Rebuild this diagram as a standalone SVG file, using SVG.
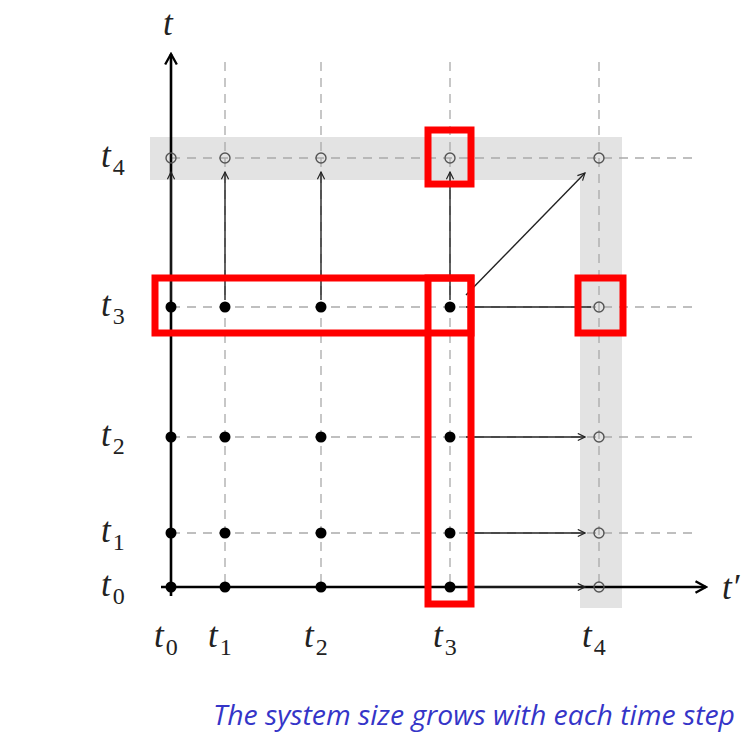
<svg xmlns="http://www.w3.org/2000/svg" width="753" height="741" viewBox="0 0 753 741">
<defs>
<style>
.grid{stroke:#aaa;stroke-width:1.3;stroke-dasharray:9,7;fill:none}
.band{fill:#e3e3e3}
.axis{stroke:#000;stroke-width:2.6;fill:none}
.arr{stroke:#222;stroke-width:1.4;fill:none}
.full{fill:#000}
.open{fill:none;stroke:#555;stroke-width:1.4}
.red{fill:none;stroke:#f00;stroke-width:7}
.lbl{font-family:"Liberation Serif",serif;font-style:italic;font-size:35px;fill:#222}
.sub{font-family:"Liberation Serif",serif;font-style:normal;font-size:24px}
.cap{font-family:"Open Sans","Liberation Sans",sans-serif;font-style:italic;font-size:28px;fill:#3535c8}
</style>
<marker id="ah" viewBox="0 0 10 10" refX="9" refY="5" markerWidth="9" markerHeight="9" markerUnits="userSpaceOnUse" orient="auto"><path d="M1,1 L9,5 L1,9" fill="none" stroke="#222" stroke-width="1.3"/></marker>
<marker id="ahb" viewBox="0 0 12 12" refX="10" refY="6" markerWidth="14" markerHeight="14" markerUnits="userSpaceOnUse" orient="auto"><path d="M1,1 L10,6 L1,11" fill="none" stroke="#000" stroke-width="2"/></marker>
</defs>
<rect width="753" height="741" fill="#fff"/>
<g id="bands">
<rect class="band" x="150" y="137" width="472" height="43"/>
<rect class="band" x="580" y="137" width="42" height="471"/>
</g>
<g id="grid">
<line class="grid" x1="225" y1="62" x2="225" y2="590"/>
<line class="grid" x1="321" y1="62" x2="321" y2="590"/>
<line class="grid" x1="450" y1="62" x2="450" y2="590"/>
<line class="grid" x1="599" y1="62" x2="599" y2="590"/>
<line class="grid" x1="171" y1="158" x2="697" y2="158"/>
<line class="grid" x1="171" y1="307" x2="697" y2="307"/>
<line class="grid" x1="171" y1="437" x2="697" y2="437"/>
<line class="grid" x1="171" y1="533" x2="697" y2="533"/>
</g>
<g id="connectors">
<line class="axis" x1="171" y1="596" x2="171" y2="54" marker-end="url(#ahb)"/>
<line class="axis" x1="161" y1="587" x2="706" y2="587" marker-end="url(#ahb)"/>
<line class="arr" x1="171" y1="300" x2="171" y2="172" marker-end="url(#ah)"/>
<line class="arr" x1="225" y1="300" x2="225" y2="172" marker-end="url(#ah)"/>
<line class="arr" x1="321" y1="300" x2="321" y2="172" marker-end="url(#ah)"/>
<line class="arr" x1="450" y1="300" x2="450" y2="172" marker-end="url(#ah)"/>
<line class="arr" x1="466" y1="295" x2="585" y2="173" marker-end="url(#ah)"/>
<line class="arr" x1="466" y1="307" x2="591" y2="307"/>
<line class="arr" x1="466" y1="437" x2="585" y2="437" marker-end="url(#ah)"/>
<line class="arr" x1="466" y1="533" x2="585" y2="533" marker-end="url(#ah)"/>
<line class="arr" x1="466" y1="587" x2="585" y2="587" marker-end="url(#ah)"/>
</g>
<g id="nodes">
<g id="row4">
<circle class="open" cx="171" cy="158" r="5"/><circle class="open" cx="225" cy="158" r="5"/><circle class="open" cx="321" cy="158" r="5"/><circle class="open" cx="450" cy="158" r="5"/><circle class="open" cx="599" cy="158" r="5"/>
</g>
<g id="row3">
<circle class="full" cx="171" cy="307" r="5.5"/><circle class="full" cx="225" cy="307" r="5.5"/><circle class="full" cx="321" cy="307" r="5.5"/><circle class="full" cx="450" cy="307" r="5.5"/><circle class="open" cx="599" cy="307" r="5" fill="#fff"/>
</g>
<g id="row2">
<circle class="full" cx="171" cy="437" r="5.5"/><circle class="full" cx="225" cy="437" r="5.5"/><circle class="full" cx="321" cy="437" r="5.5"/><circle class="full" cx="450" cy="437" r="5.5"/><circle class="open" cx="599" cy="437" r="5"/>
</g>
<g id="row1">
<circle class="full" cx="171" cy="533" r="5.5"/><circle class="full" cx="225" cy="533" r="5.5"/><circle class="full" cx="321" cy="533" r="5.5"/><circle class="full" cx="450" cy="533" r="5.5"/><circle class="open" cx="599" cy="533" r="5"/>
</g>
<g id="row0">
<circle class="full" cx="171" cy="587" r="5.5"/><circle class="full" cx="225" cy="587" r="5.5"/><circle class="full" cx="321" cy="587" r="5.5"/><circle class="full" cx="450" cy="587" r="5.5"/><circle class="open" cx="599" cy="587" r="5"/>
</g>
</g>
<g id="highlights">
<rect class="red" x="428" y="130" width="43" height="54"/>
<rect class="red" x="155" y="278" width="316" height="55"/>
<rect class="red" x="428" y="278" width="43" height="326"/>
<rect class="red" x="578" y="278" width="45" height="55"/>
</g>
<g id="labels">
<text class="lbl" x="163" y="35">t</text>
<text class="lbl" x="722" y="599">t′</text>
<text class="lbl" x="101" y="167">t<tspan class="sub" dx="2" dy="8">4</tspan></text>
<text class="lbl" x="101" y="316">t<tspan class="sub" dx="2" dy="8">3</tspan></text>
<text class="lbl" x="101" y="446">t<tspan class="sub" dx="2" dy="8">2</tspan></text>
<text class="lbl" x="101" y="542">t<tspan class="sub" dx="2" dy="8">1</tspan></text>
<text class="lbl" x="101" y="596">t<tspan class="sub" dx="2" dy="8">0</tspan></text>
<text class="lbl" x="154" y="647">t<tspan class="sub" dx="2" dy="8">0</tspan></text>
<text class="lbl" x="208" y="647">t<tspan class="sub" dx="2" dy="8">1</tspan></text>
<text class="lbl" x="304" y="647">t<tspan class="sub" dx="2" dy="8">2</tspan></text>
<text class="lbl" x="433" y="647">t<tspan class="sub" dx="2" dy="8">3</tspan></text>
<text class="lbl" x="582" y="647">t<tspan class="sub" dx="2" dy="8">4</tspan></text>
<text class="cap" x="213" y="725" textLength="522" lengthAdjust="spacingAndGlyphs">The system size grows with each time step</text>
</g>
</svg>
